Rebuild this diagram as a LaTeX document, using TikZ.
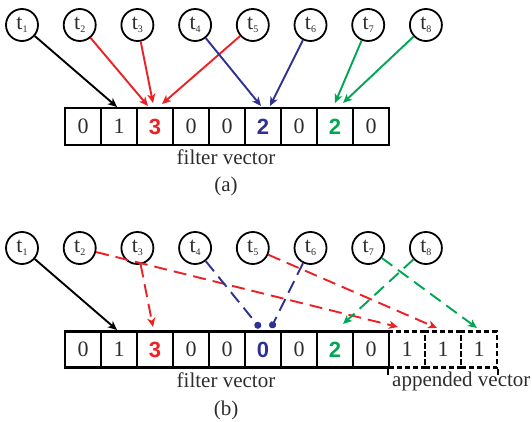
\documentclass[tikz,border=0pt]{standalone}
\usepackage{fontspec}
\setmainfont{Liberation Serif}
\newfontfamily\digsans{Liberation Sans}
\usetikzlibrary{arrows.meta}
\definecolor{fred}{RGB}{237,32,36}
\definecolor{fblue}{RGB}{46,49,146}
\definecolor{fgreen}{RGB}{0,166,81}
\definecolor{txtgray}{RGB}{45,45,45}
\newcommand\toklbl[1]{{\fontsize{22}{22}\selectfont t}\raisebox{-3pt}{\fontsize{10}{10}\selectfont #1}}
\tikzset{
 tok/.style={circle, draw, line width=1.8pt, minimum size=32pt, inner sep=0pt, text=txtgray},
 cellbox/.style={draw, line width=2.4pt, minimum width=36pt, minimum height=37pt, inner sep=0pt, font=\fontsize{22}{22}\selectfont, text=txtgray},
 appbox/.style={draw, line width=2.2pt, dash pattern=on 5pt off 3pt, minimum width=36pt, minimum height=36pt, inner sep=0pt, font=\fontsize{22}{22}\selectfont, text=txtgray},
 hl/.style={font=\digsans\bfseries\fontsize{22}{22}\selectfont},
 arr/.style={line width=1.9pt, -{Stealth[length=9pt,width=8pt,inset=2.5pt]}},
 dotarr/.style={line width=1.9pt, -{Circle[length=7pt]}},
 dsh/.style={dash pattern=on 13pt off 7pt},
 lbltext/.style={font=\fontsize{21}{24}\selectfont, text=txtgray, inner sep=0pt},
}
\begin{document}
\begin{tikzpicture}[x=1pt,y=-1pt]
\useasboundingbox (0,0) rectangle (532,422);
% ---------- panel (a) ----------
\foreach \i in {1,...,8}{
  \node[tok] (a\i) at ({22+57.7*(\i-1)},25) {\toklbl{\i}};
}
\node[cellbox] (ac1) at (83,126.5) {0};
\node[cellbox] (ac2) at (119,126.5) {1};
\node[cellbox,hl,text=fred] (ac3) at (155,126.5) {3};
\node[cellbox] (ac4) at (191,126.5) {0};
\node[cellbox] (ac5) at (227,126.5) {0};
\node[cellbox,hl,text=fblue] (ac6) at (263,126.5) {2};
\node[cellbox] (ac7) at (299,126.5) {0};
\node[cellbox,hl,text=fgreen] (ac8) at (335,126.5) {2};
\node[cellbox] (ac9) at (371,126.5) {0};
\node[lbltext] (afv) at (226,157) {filter vector};
\node[lbltext] (alab) at (226,186) {(a)};
\coordinate (pa1) at (117,107);
\coordinate (pa2) at (148,106);
\coordinate (pa3) at (153,103);
\coordinate (pa5) at (162,104);
\coordinate (pa4) at (261,106);
\coordinate (pa6) at (270,106);
\coordinate (pa7) at (335,103);
\coordinate (pa8) at (343,103);
\draw[arr] (a1) -- (pa1);
\draw[arr,fred] (a2) -- (pa2);
\draw[arr,fred] (a3) -- (pa3);
\draw[arr,fred] (a5) -- (pa5);
\draw[arr,fblue] (a4) -- (pa4);
\draw[arr,fblue] (a6) -- (pa6);
\draw[arr,fgreen] (a7) -- (pa7);
\draw[arr,fgreen] (a8) -- (pa8);
% ---------- panel (b) ----------
\foreach \i in {1,...,8}{
  \node[tok] (b\i) at ({22+57.7*(\i-1)},248) {\toklbl{\i}};
}
\node[cellbox,minimum height=36pt] (bc1) at (83,349.5) {0};
\node[cellbox,minimum height=36pt] (bc2) at (119,349.5) {1};
\node[cellbox,minimum height=36pt,hl,text=fred] (bc3) at (155,349.5) {3};
\node[cellbox,minimum height=36pt] (bc4) at (191,349.5) {0};
\node[cellbox,minimum height=36pt] (bc5) at (227,349.5) {0};
\node[cellbox,minimum height=36pt,hl,text=fblue] (bc6) at (263,349.5) {0};
\node[cellbox,minimum height=36pt] (bc7) at (299,349.5) {0};
\node[cellbox,minimum height=36pt,hl,text=fgreen] (bc8) at (335,349.5) {2};
\node[cellbox,minimum height=36pt] (bc9) at (371,349.5) {0};
\node[appbox] (bd1) at (407,349.5) {1};
\node[appbox] (bd2) at (443,349.5) {1};
\node[appbox] (bd3) at (479,349.5) {1};
\draw[line width=2pt] (bd1.south west) -- ++(0,6);
\draw[line width=2pt] (bd3.south east) -- ++(0,6);
\node[lbltext] (bfv) at (226,380) {filter vector};
\node[lbltext,anchor=west] (bav) at (392,381) {appended vector};
\node[lbltext] (blab) at (226,410) {(b)};
\coordinate (pb1) at (117,330);
\coordinate (pb3) at (153,327);
\coordinate (pb2) at (398,327);
\coordinate (pb5) at (437,328);
\coordinate (pb7) at (477,328);
\coordinate (pb4) at (260,328);
\coordinate (pb6) at (271,328);
\coordinate (pb8) at (343,324);
\draw[arr] (b1) -- (pb1);
\draw[arr,dsh,fred] (b3) -- (pb3);
\draw[arr,dsh,fred] (b2) -- (pb2);
\draw[arr,dsh,fred] (b5) -- (pb5);
\draw[dotarr,dsh,fblue] (b4) -- (pb4);
\draw[dotarr,dsh,fblue] (b6) -- (pb6);
\draw[arr,dsh,fgreen] (b7) -- (pb7);
\draw[arr,dsh,fgreen] (b8) -- (pb8);
\end{tikzpicture}
\end{document}
